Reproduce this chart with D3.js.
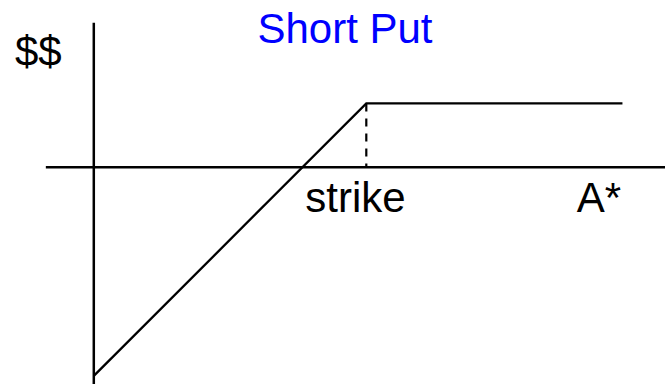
<!DOCTYPE html>
<html>
<head>
<meta charset="utf-8">
<script src="https://cdn.jsdelivr.net/npm/d3@7"></script>
<style>
  html, body { margin: 0; padding: 0; background: #fff; }
  svg { display: block; }
  text { font-family: "Liberation Sans", Arial, sans-serif; }
</style>
</head>
<body>
<svg id="chart" width="665" height="384"></svg>
<script>
// ---- data ----
const title = "Short Put";
const yLabel = "$$";
const strike = 50;
const premium = 11.7;
const payoffX = [0, 50, 97];
const payoffY = [premium - strike, premium, premium];
const axisXExtent = [-8.8, 105];
const axisYExtent = [-40, 26.5];
const xLabels = [
  { text: "strike", value: 38.8 },
  { text: "A*", value: 88.6 }
];

// ---- drawing ----
const svg = d3.select("#chart");
const x = d3.scaleLinear().domain([0, 100]).range([93.8, 638.8]);
const y = d3.scaleLinear().domain([0, 10]).range([167.2, 112.7]);

// axes
svg.append("line")
  .attr("x1", x(axisXExtent[0])).attr("x2", x(axisXExtent[1]))
  .attr("y1", y(0)).attr("y2", y(0))
  .attr("stroke", "#000").attr("stroke-width", 2.5);
svg.append("line")
  .attr("x1", x(0)).attr("x2", x(0))
  .attr("y1", y(axisYExtent[0])).attr("y2", y(axisYExtent[1]))
  .attr("stroke", "#000").attr("stroke-width", 2.5);

// dashed strike marker
svg.append("line")
  .attr("x1", x(strike)).attr("x2", x(strike))
  .attr("y1", y(premium)).attr("y2", y(0))
  .attr("stroke", "#000").attr("stroke-width", 2.2)
  .attr("stroke-dasharray", "8,7");

// payoff line
const pts = payoffX.map((d, i) => [d, payoffY[i]]);
svg.append("path")
  .datum(pts)
  .attr("fill", "none")
  .attr("stroke", "#000")
  .attr("stroke-width", 2.3)
  .attr("stroke-linejoin", "miter")
  .attr("d", d3.line().x(d => x(d[0])).y(d => y(d[1])));

// labels
svg.append("text")
  .attr("x", 345).attr("y", 43)
  .attr("text-anchor", "middle")
  .attr("font-size", 42)
  .attr("fill", "#0000ff")
  .text(title);

svg.append("text")
  .attr("x", 15).attr("y", 66)
  .attr("font-size", 42)
  .attr("fill", "#000")
  .text(yLabel);

svg.selectAll("text.xl")
  .data(xLabels)
  .enter().append("text")
  .attr("class", "xl")
  .attr("x", d => x(d.value))
  .attr("y", 212)
  .attr("font-size", 42)
  .attr("fill", "#000")
  .text(d => d.text);
</script>
</body>
</html>
